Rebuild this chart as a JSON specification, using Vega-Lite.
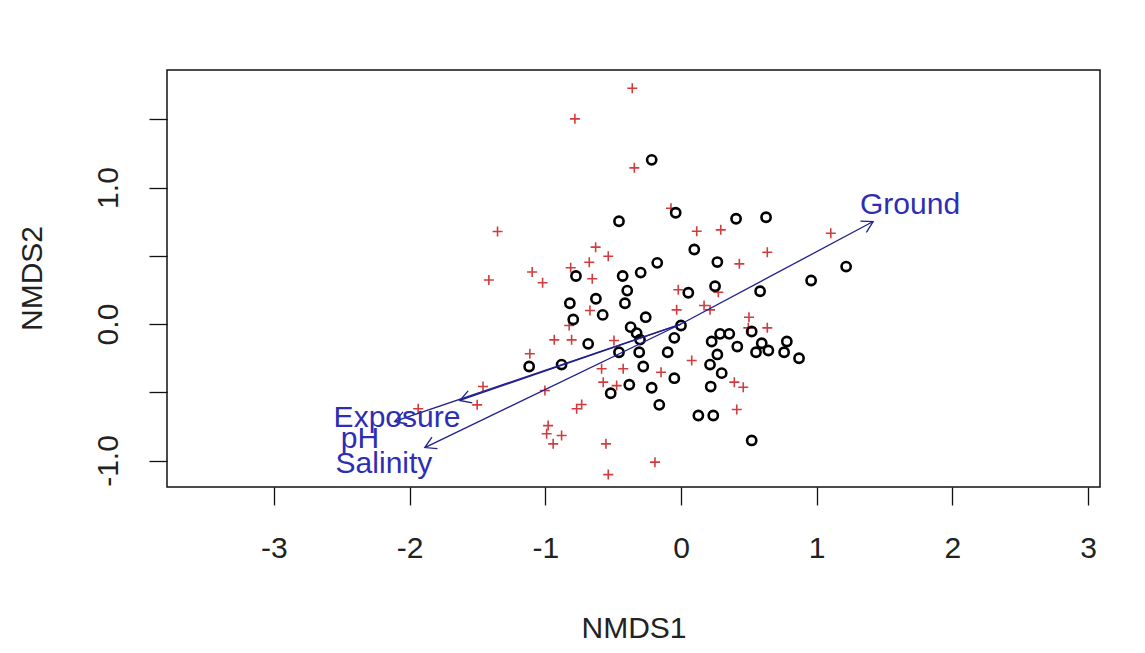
{
"$schema": "https://vega.github.io/schema/vega-lite/v6.json",
"width": 933, "height": 417,
"autosize": {"type": "none"},
"padding": {"left": 167, "top": 70, "right": 45, "bottom": 166},
"background": "white",
"config": {"view": {"stroke": "#111111", "strokeWidth": 1.5}, "font": "Liberation Sans"},
"datasets": {
"sites": [
{"NMDS1":-0.216,"NMDS2":1.203},{"NMDS1":-0.039,"NMDS2":0.815},{"NMDS1":-0.457,"NMDS2":0.753},{"NMDS1":0.406,"NMDS2":0.771},{"NMDS1":0.627,"NMDS2":0.782},{"NMDS1":0.098,"NMDS2":0.546},{"NMDS1":0.268,"NMDS2":0.454},{"NMDS1":1.217,"NMDS2":0.421},{"NMDS1":0.959,"NMDS2":0.319},{"NMDS1":0.251,"NMDS2":0.277},{"NMDS1":0.054,"NMDS2":0.229},{"NMDS1":0.583,"NMDS2":0.240},{"NMDS1":-0.175,"NMDS2":0.448},{"NMDS1":-0.297,"NMDS2":0.377},{"NMDS1":-0.430,"NMDS2":0.352},{"NMDS1":-0.774,"NMDS2":0.352},{"NMDS1":-0.396,"NMDS2":0.245},{"NMDS1":-0.413,"NMDS2":0.152},{"NMDS1":-0.627,"NMDS2":0.185},{"NMDS1":-0.819,"NMDS2":0.152},{"NMDS1":-0.577,"NMDS2":0.067},{"NMDS1":-0.794,"NMDS2":0.033},{"NMDS1":-0.260,"NMDS2":0.050},{"NMDS1":-0.371,"NMDS2":-0.023},{"NMDS1":-0.327,"NMDS2":-0.067},{"NMDS1":0.000,"NMDS2":-0.011},{"NMDS1":-0.684,"NMDS2":-0.145},{"NMDS1":-0.049,"NMDS2":-0.101},{"NMDS1":-0.457,"NMDS2":-0.207},{"NMDS1":-0.308,"NMDS2":-0.207},{"NMDS1":-0.098,"NMDS2":-0.207},{"NMDS1":-1.119,"NMDS2":-0.311},{"NMDS1":-0.880,"NMDS2":-0.297},{"NMDS1":-0.278,"NMDS2":-0.311},{"NMDS1":-0.049,"NMDS2":-0.397},{"NMDS1":-0.381,"NMDS2":-0.445},{"NMDS1":-0.216,"NMDS2":-0.467},{"NMDS1":-0.518,"NMDS2":-0.507},{"NMDS1":-0.160,"NMDS2":-0.592},{"NMDS1":0.128,"NMDS2":-0.670},{"NMDS1":0.238,"NMDS2":-0.670},{"NMDS1":0.521,"NMDS2":-0.853},{"NMDS1":0.356,"NMDS2":-0.072},{"NMDS1":0.288,"NMDS2":-0.072},{"NMDS1":0.521,"NMDS2":-0.055},{"NMDS1":0.226,"NMDS2":-0.128},{"NMDS1":0.415,"NMDS2":-0.165},{"NMDS1":0.595,"NMDS2":-0.141},{"NMDS1":0.553,"NMDS2":-0.207},{"NMDS1":0.644,"NMDS2":-0.194},{"NMDS1":0.780,"NMDS2":-0.128},{"NMDS1":0.760,"NMDS2":-0.207},{"NMDS1":0.870,"NMDS2":-0.251},{"NMDS1":0.268,"NMDS2":-0.223},{"NMDS1":0.214,"NMDS2":-0.297},{"NMDS1":0.300,"NMDS2":-0.360},{"NMDS1":0.219,"NMDS2":-0.458},{"NMDS1":-0.302,"NMDS2":-0.114}
],
"species": [
{"NMDS1":-0.359,"NMDS2":1.727},{"NMDS1":-0.782,"NMDS2":1.503},{"NMDS1":-0.344,"NMDS2":1.144},{"NMDS1":-0.074,"NMDS2":0.848},{"NMDS1":-1.352,"NMDS2":0.678},{"NMDS1":0.116,"NMDS2":0.680},{"NMDS1":-0.629,"NMDS2":0.563},{"NMDS1":-0.536,"NMDS2":0.497},{"NMDS1":-0.676,"NMDS2":0.453},{"NMDS1":-1.097,"NMDS2":0.381},{"NMDS1":-0.813,"NMDS2":0.412},{"NMDS1":-0.654,"NMDS2":0.332},{"NMDS1":-1.416,"NMDS2":0.322},{"NMDS1":-1.020,"NMDS2":0.302},{"NMDS1":0.293,"NMDS2":0.690},{"NMDS1":1.104,"NMDS2":0.665},{"NMDS1":0.430,"NMDS2":0.441},{"NMDS1":0.636,"NMDS2":0.526},{"NMDS1":0.275,"NMDS2":0.233},{"NMDS1":0.214,"NMDS2":0.104},{"NMDS1":0.170,"NMDS2":0.136},{"NMDS1":0.501,"NMDS2":0.050},{"NMDS1":0.636,"NMDS2":-0.028},{"NMDS1":0.496,"NMDS2":-0.028},{"NMDS1":0.079,"NMDS2":-0.267},{"NMDS1":0.393,"NMDS2":-0.426},{"NMDS1":0.459,"NMDS2":-0.463},{"NMDS1":0.411,"NMDS2":-0.626},{"NMDS1":-0.020,"NMDS2":0.251},{"NMDS1":-0.671,"NMDS2":0.099},{"NMDS1":-0.824,"NMDS2":-0.011},{"NMDS1":-0.032,"NMDS2":0.104},{"NMDS1":-0.934,"NMDS2":-0.116},{"NMDS1":-0.806,"NMDS2":-0.116},{"NMDS1":-0.494,"NMDS2":-0.121},{"NMDS1":-1.114,"NMDS2":-0.218},{"NMDS1":-0.585,"NMDS2":-0.328},{"NMDS1":-0.426,"NMDS2":-0.328},{"NMDS1":-0.147,"NMDS2":-0.353},{"NMDS1":-0.573,"NMDS2":-0.426},{"NMDS1":-0.474,"NMDS2":-0.451},{"NMDS1":-1.003,"NMDS2":-0.487},{"NMDS1":-1.502,"NMDS2":-0.592},{"NMDS1":-0.732,"NMDS2":-0.590},{"NMDS1":-0.769,"NMDS2":-0.621},{"NMDS1":-1.937,"NMDS2":-0.621},{"NMDS1":-0.979,"NMDS2":-0.744},{"NMDS1":-0.990,"NMDS2":-0.804},{"NMDS1":-0.880,"NMDS2":-0.817},{"NMDS1":-0.942,"NMDS2":-0.878},{"NMDS1":-0.553,"NMDS2":-0.878},{"NMDS1":-0.192,"NMDS2":-1.012},{"NMDS1":-0.536,"NMDS2":-1.103},{"NMDS1":-1.459,"NMDS2":-0.458}
],
"vectors": [
{"variable":"Ground","NMDS1":1.416,"NMDS2":0.751,"lx":1.688,"ly":0.875},
{"variable":"Exposure","NMDS1":-1.63,"NMDS2":-0.56,"lx":-2.093,"ly":-0.685},
{"variable":"pH","NMDS1":-2.11,"NMDS2":-0.714,"lx":-2.366,"ly":-0.839},
{"variable":"Salinity","NMDS1":-1.888,"NMDS2":-0.905,"lx":-2.189,"ly":-1.029}
]
},
"encoding": {
"x": {"field": "NMDS1", "type": "quantitative",
 "scale": {"domain": [-3.788, 3.088], "nice": false, "zero": false},
 "axis": {"title": "NMDS1", "values": [-3,-2,-1,0,1,2,3], "grid": false, "domain": false,
  "tickSize": 18, "tickColor": "#111111", "tickWidth": 1.3,
  "labelFontSize": 30, "labelColor": "#222222", "labelPadding": 43, "labelBaseline": "middle",
  "labelFlush": false, "labelOverlap": false, "labelBound": false,
  "labelExpr": "'' + datum.value",
  "titleFontSize": 30, "titleFontWeight": "normal", "titleColor": "#222222",
  "titleY": 141, "titleBaseline": "middle"}},
"y": {"field": "NMDS2", "type": "quantitative",
 "scale": {"domain": [-1.194, 1.861], "nice": false, "zero": false},
 "axis": {"title": "NMDS2", "values": [-1,-0.5,0,0.5,1,1.5], "grid": false, "domain": false,
  "tickSize": 18, "tickColor": "#111111", "tickWidth": 1.3,
  "labelFontSize": 30, "labelColor": "#222222", "labelPadding": 41, "labelAngle": 270,
  "labelAlign": "center", "labelBaseline": "middle",
  "labelFlush": false, "labelOverlap": false, "labelBound": false,
  "labelExpr": "datum.value % 1 === 0 ? (datum.value + '.0') : ''",
  "titleFontSize": 30, "titleFontWeight": "normal", "titleColor": "#222222",
  "titleAngle": 270, "titleX": -135, "titleY": 208, "titleBaseline": "middle", "titleAlign": "center"}}
},
"layer": [
{"data": {"name": "species"},
 "mark": {"type": "point", "shape": "M-1,0L1,0M0,-1L0,1", "size": 100, "filled": false, "stroke": "#d23c3c", "strokeWidth": 1.6, "opacity": 1}},
{"data": {"name": "sites"},
 "mark": {"type": "point", "shape": "circle", "size": 85, "filled": false, "stroke": "#000000", "strokeWidth": 2.6, "opacity": 1}},
{"data": {"name": "vectors"},
 "mark": {"type": "rule", "stroke": "#1f1f8f", "strokeWidth": 1.3},
 "encoding": {"x2": {"datum": 0}, "y2": {"datum": 0}}},
{"data": {"name": "vectors"},
 "transform": [{"calculate": "atan2(datum.NMDS1, datum.NMDS2) * 180 / PI", "as": "ang"}],
 "mark": {"type": "point", "shape": "M-0.58,1L0,0L0.58,1", "size": 484, "filled": false, "stroke": "#1f1f8f", "strokeWidth": 1.3, "opacity": 1},
 "encoding": {"angle": {"field": "ang", "type": "quantitative", "scale": null}}},
{"data": {"name": "vectors"},
 "mark": {"type": "text", "fontSize": 30, "color": "#2e2eb4", "align": "center", "baseline": "middle", "font": "Liberation Sans"},
 "encoding": {"x": {"field": "lx", "type": "quantitative"}, "y": {"field": "ly", "type": "quantitative"}, "text": {"field": "variable"}}}
]
}
